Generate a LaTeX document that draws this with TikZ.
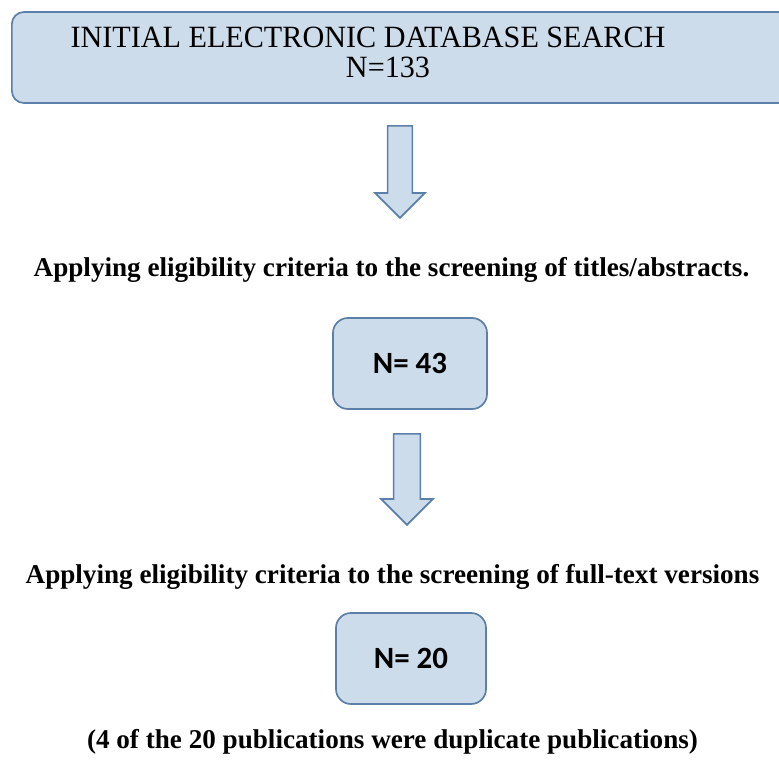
\documentclass[tikz,border=0pt]{standalone}
\usepackage{fontspec}
\setmainfont{Liberation Serif}
\newfontfamily\headfont[FakeStretch=0.975]{Liberation Serif}
\newfontfamily\countfont{Carlito}
\usetikzlibrary{shapes.arrows}
\definecolor{BoxFill}{HTML}{CCDCEA}
\definecolor{BoxLine}{HTML}{5B7FA8}
\tikzset{
  stage/.style={rectangle,rounded corners=0.375cm,draw=BoxLine,fill=BoxFill,
                line width=1.2pt,minimum height=2.275cm,
                font=\countfont\bfseries\fontsize{22}{26}\selectfont},
  down/.style={single arrow,shape border rotate=270,draw=BoxLine,fill=BoxFill,
               line width=1.2pt,single arrow head extend=0.3125cm,anchor=tail},
  crit/.style={inner sep=0pt,font=\bfseries\fontsize{19.3}{22}\selectfont}
}
\begin{document}
\begin{tikzpicture}[x=0.025cm,y=-0.025cm]
  \useasboundingbox (0,0) rectangle (779,764);
  \clip (0,0) rectangle (779,764);
  % top search box
  \node[stage,rounded corners=0.3cm,minimum width=19.45cm] (search) at (401,57.5) {};
  \node[align=center,inner sep=0pt,
        font=\headfont\fontsize{22}{21.3}\selectfont] (searchtxt) at (388,52)
    {INITIAL ELECTRONIC DATABASE SEARCH\rule{1cm}{0pt}\\N=133};
  \node[down,inner sep=0.2875cm,minimum height=2.3cm] (arrA) at (400,125) {};
  \node[crit] (titles) at (391.5,270)
    {Applying eligibility criteria to the screening of titles/abstracts.};
  \node[stage,minimum width=3.85cm] (first) at (410,363.5) {N= 43};
  \node[down,inner sep=0.3125cm,minimum height=2.275cm] (arrB) at (407,433) {};
  \node[crit] (fulltext) at (392.5,577)
    {Applying eligibility criteria to the screening of full-text versions};
  \node[stage,minimum width=3.75cm] (second) at (411,658.5) {N= 20};
  \node[crit] (dupes) at (392.5,742)
    {(4 of the 20 publications were duplicate publications)};
\end{tikzpicture}
\end{document}
